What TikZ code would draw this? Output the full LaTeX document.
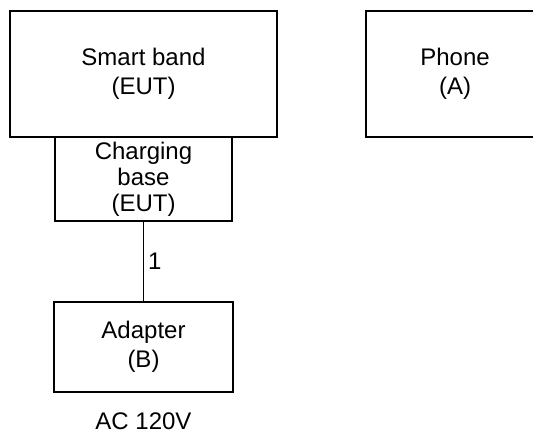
\documentclass[tikz,border=0pt]{standalone}
\usepackage{fontspec}
\setmainfont{Liberation Sans}
\begin{document}
\begin{tikzpicture}[x=1pt,y=-1pt,
  box/.style={draw,line width=1.3pt,inner sep=0pt,align=center,font=\fontsize{24}{29}\selectfont},
  lbl/.style={inner sep=0pt,font=\fontsize{24}{29}\selectfont}]
\useasboundingbox (0,0) rectangle (533,437);
\clip (0,0) rectangle (533,437);
\node[box,minimum width=267pt,minimum height=126pt] (sb) at (143.5,74) {Smart band\\(EUT)};
\node[box,minimum width=178pt,minimum height=126pt] (ph) at (455,74) {Phone\\(A)};
\node[box,minimum width=177pt,minimum height=84pt,font=\fontsize{24}{26}\selectfont] (cb) at (143.5,179) {Charging\\base\\(EUT)};
\node[box,minimum width=179pt,minimum height=90pt] (ad) at (143.5,347) {Adapter\\(B)};
\node[lbl] (ac) at (143.5,421.5) {AC 120V};
\draw[line width=1.3pt] (cb) -- node[right,inner sep=4pt,font=\fontsize{24}{29}\selectfont] (n1) {1} (ad);
\end{tikzpicture}
\end{document}
